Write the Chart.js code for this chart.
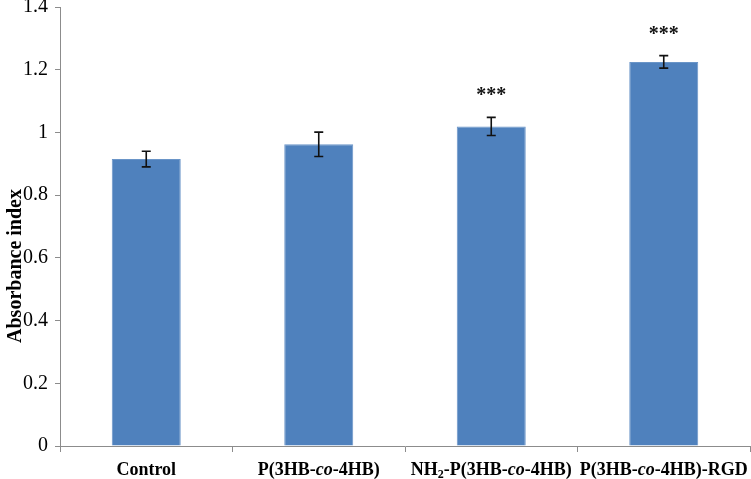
<!DOCTYPE html>
<html>
<head>
<meta charset="utf-8">
<script src="https://cdn.jsdelivr.net/npm/chart.js@4"></script>
<style>
  html, body { margin: 0; padding: 0; background: #fff; }
  #wrap { width: 751px; height: 479px; position: relative; }
</style>
</head>
<body>
<div id="wrap"><canvas id="c"></canvas></div>
<script>
// ---- data ----
const categories = ['Control', 'P(3HB-<i>co</i>-4HB)', 'NH<sub>2</sub>-P(3HB-<i>co</i>-4HB)', 'P(3HB-<i>co</i>-4HB)-RGD'];
const absorbance = [0.915, 0.962, 1.019, 1.225];
const errorValues = [0.025, 0.039, 0.029, 0.020];
const significance = ['', '', '***', '***'];
const yTickLabels = ['0', '0.2', '0.4', '0.6', '0.8', '1', '1.2', '1.4'];
const yAxisTitle = 'Absorbance index';

const SERIF = '"Liberation Serif", "Times New Roman", serif';
const AXIS_GREY = '#8c8c8c';

function parseRich(s) {
  const parts = [];
  const re = /<(i|sub)>(.*?)<\/\1>/g;
  let last = 0, m;
  while ((m = re.exec(s)) !== null) {
    if (m.index > last) parts.push({ t: s.slice(last, m.index), k: 'n' });
    parts.push({ t: m[2], k: m[1] });
    last = re.lastIndex;
  }
  if (last < s.length) parts.push({ t: s.slice(last), k: 'n' });
  return parts;
}
function plainLabel(s) { return s.replace(/<[^>]+>/g, ''); }

const overlay = {
  id: 'overlay',
  afterDatasetsDraw(chart) {
    const ctx = chart.ctx;
    const xs = chart.scales.x, ys = chart.scales.y;
    ctx.save();
    // error bars
    ctx.strokeStyle = '#111';
    ctx.lineWidth = 1.6;
    absorbance.forEach((v, i) => {
      const x = xs.getPixelForValue(i);
      const yt = ys.getPixelForValue(v + errorValues[i]);
      const yb = ys.getPixelForValue(v - errorValues[i]);
      ctx.beginPath();
      ctx.moveTo(x, yt); ctx.lineTo(x, yb);
      ctx.moveTo(x - 4.5, yt); ctx.lineTo(x + 4.5, yt);
      ctx.moveTo(x - 4.5, yb); ctx.lineTo(x + 4.5, yb);
      ctx.stroke();
      if (significance[i]) {
        ctx.fillStyle = '#111';
        ctx.font = 'bold 20px ' + SERIF;
        ctx.textAlign = 'center';
        ctx.textBaseline = 'alphabetic';
        ctx.fillText(significance[i], x, yt - 16);
      }
    });
    // x category labels (rich text)
    ctx.fillStyle = '#000';
    ctx.textBaseline = 'alphabetic';
    ctx.textAlign = 'left';
    const base = 475;
    categories.forEach((lab, i) => {
      const parts = parseRich(lab);
      const fontFor = k => k === 'i' ? 'bold italic 18px ' + SERIF : (k === 'sub' ? 'bold 12px ' + SERIF : 'bold 18px ' + SERIF);
      let w = 0;
      parts.forEach(p => { ctx.font = fontFor(p.k); w += ctx.measureText(p.t).width; });
      let x = xs.getPixelForValue(i) - w / 2;
      parts.forEach(p => {
        ctx.font = fontFor(p.k);
        ctx.fillText(p.t, x, p.k === 'sub' ? base + 3 : base);
        x += ctx.measureText(p.t).width;
      });
    });
    // y axis title
    ctx.translate(16, 266);
    ctx.rotate(-Math.PI / 2);
    ctx.font = 'bold 20px ' + SERIF;
    ctx.textAlign = 'center';
    ctx.textBaseline = 'middle';
    ctx.fillText(yAxisTitle, 0, 0);
    ctx.restore();
  }
};

new Chart(document.getElementById('c'), {
  type: 'bar',
  data: {
    labels: categories.map(plainLabel),
    datasets: [{
      data: absorbance,
      backgroundColor: '#4f81bd',
      borderColor: '#6a95c8',
      borderWidth: 1,
      barPercentage: 0.4,
      categoryPercentage: 1.0
    }]
  },
  options: {
    responsive: true,
    maintainAspectRatio: false,
    animation: false,
    layout: { padding: { top: 0, right: 1, left: 0, bottom: 0 } },
    plugins: { legend: { display: false }, tooltip: { enabled: false }, title: { display: false } },
    scales: {
      x: {
        offset: true,
        grid: { display: true, drawOnChartArea: false, drawTicks: true, tickLength: 6, color: AXIS_GREY, offset: true },
        border: { display: true, color: AXIS_GREY, width: 1 },
        ticks: { display: false },
        afterFit(s) { s.height = 33; s.paddingLeft = 0; s.paddingRight = 0; }
      },
      y: {
        min: 0, max: 1.4,
        grid: { display: true, drawOnChartArea: false, drawTicks: true, tickLength: 5, color: AXIS_GREY },
        border: { display: true, color: AXIS_GREY, width: 1 },
        ticks: {
          stepSize: 0.2,
          padding: 7,
          color: '#000',
          font: { family: SERIF, size: 20 },
          callback: (v, i) => yTickLabels[i]
        },
        afterFit(s) { s.width = 60; s.paddingTop = 7; s.paddingBottom = 0; }
      }
    }
  },
  plugins: [overlay]
});
</script>
</body>
</html>
